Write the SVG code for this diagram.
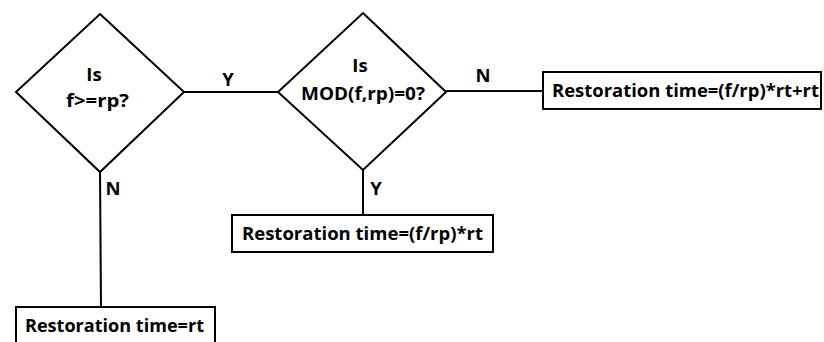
<svg xmlns="http://www.w3.org/2000/svg" width="824" height="342" viewBox="0 0 824 342">
<style>
.s{fill:#fff;stroke:#000;stroke-width:2}
.c{fill:none;stroke:#000;stroke-width:2}
text{font-family:"Open Sans","Liberation Sans",sans-serif;font-weight:bold;font-size:18.5px;fill:#000}
.m{text-anchor:middle}
</style>
<rect width="824" height="342" fill="#fff"/>
<g id="connectors">
<line class="c" x1="184" y1="92" x2="278" y2="92"/>
<line class="c" x1="446" y1="91" x2="543" y2="91"/>
<line class="c" x1="100" y1="172" x2="101" y2="307"/>
<line class="c" x1="363" y1="170" x2="363" y2="215"/>
<text x="228" y="86" class="m">Y</text>
<text x="483" y="82" class="m">N</text>
<text x="113" y="195" class="m">N</text>
<text x="376" y="195" class="m">Y</text>
</g>
<g id="d1">
<polygon class="s" points="100,14 184,92 100,172 16,92"/>
<text x="94" y="81" class="m">Is</text>
<text x="97.5" y="107" class="m" textLength="63" lengthAdjust="spacingAndGlyphs">f&gt;=rp?</text>
</g>
<g id="d2">
<polygon class="s" points="363,13 446,92 363,170 278,92"/>
<text x="360" y="72" class="m">Is</text>
<text x="363" y="100" class="m" textLength="124" lengthAdjust="spacingAndGlyphs">MOD(f,rp)=0?</text>
</g>
<g id="b3">
<rect class="s" x="543" y="72" width="278" height="37"/>
<text x="552" y="97" textLength="267" lengthAdjust="spacingAndGlyphs">Restoration time=(f/rp)*rt+rt</text>
</g>
<g id="b2">
<rect class="s" x="232" y="215" width="261" height="37"/>
<text x="242" y="240" textLength="241" lengthAdjust="spacingAndGlyphs">Restoration time=(f/rp)*rt</text>
</g>
<g id="b1">
<rect class="s" x="16" y="307" width="199" height="36"/>
<text x="25" y="332" textLength="179" lengthAdjust="spacingAndGlyphs">Restoration time=rt</text>
</g>
</svg>
